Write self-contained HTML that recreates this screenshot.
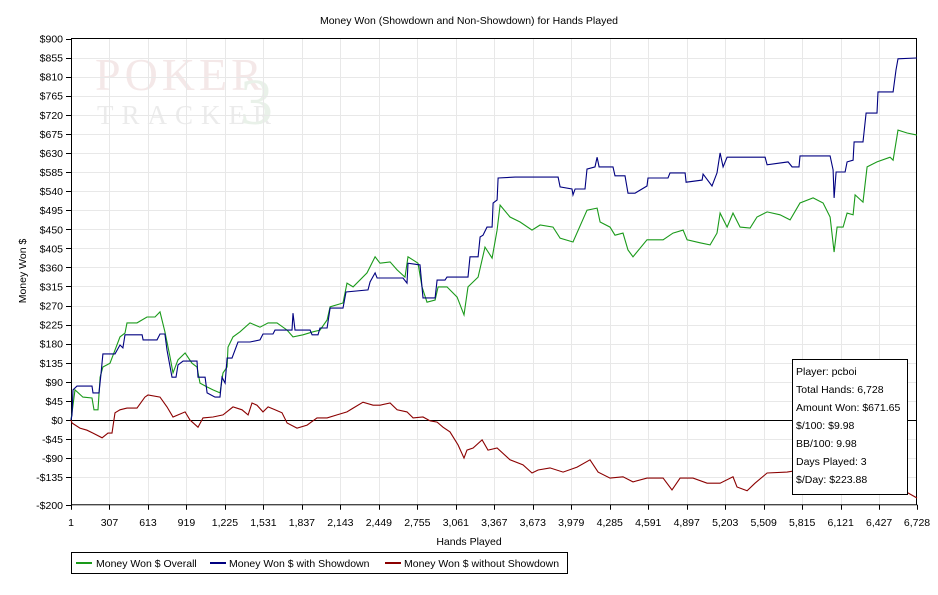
<!DOCTYPE html>
<html><head><meta charset="utf-8"><style>
body{margin:0;background:#fff;width:938px;height:590px;overflow:hidden}
svg text{font-family:"Liberation Sans","DejaVu Sans",sans-serif;font-size:10.5px;fill:#000}
</style></head><body>
<svg id="chart" width="938" height="590" xmlns="http://www.w3.org/2000/svg">
<rect x="0" y="0" width="938" height="590" fill="#fff"/>
<g id="watermark" opacity="0.55">
<text x="95" y="90" style="font-family:'Liberation Serif',serif;font-size:46px;fill:#ecd6d6;letter-spacing:4px">POKER</text>
<text x="97" y="124" style="font-family:'Liberation Serif',serif;font-size:27px;fill:#dcdcdc;letter-spacing:8px">TRACKER</text>
<text x="240" y="124" style="font-family:'Liberation Serif',serif;font-size:66px;fill:#d8e6d8">3</text>
</g>
<text x="469" y="24" text-anchor="middle">Money Won (Showdown and Non-Showdown) for Hands Played</text>
<text transform="translate(26,271) rotate(-90)" text-anchor="middle">Money Won $</text>
<text x="469" y="545" text-anchor="middle">Hands Played</text>
<g id="grid"></g><g id="axes"></g><g id="series"></g>
<g>
<rect x="792.5" y="359.5" width="115" height="135" fill="#fff" stroke="#000"/>
<text x="796" y="375">Player: pcboi</text>
<text x="796" y="393">Total Hands: 6,728</text>
<text x="796" y="411">Amount Won: $671.65</text>
<text x="796" y="429">$/100: $9.98</text>
<text x="796" y="447">BB/100: 9.98</text>
<text x="796" y="465">Days Played: 3</text>
<text x="796" y="483">$/Day: $223.88</text>
</g>
<g>
<rect x="71.5" y="552.5" width="496" height="21" fill="#fff" stroke="#000"/>
<g><line x1="76" y1="563" x2="92" y2="563" stroke="#1a9a1a" stroke-width="2"/><text x="96" y="567">Money Won $ Overall</text></g>
<g><line x1="210" y1="563" x2="226" y2="563" stroke="#000080" stroke-width="2"/><text x="229" y="567">Money Won $ with Showdown</text></g>
<g><line x1="385" y1="563" x2="401" y2="563" stroke="#8b0000" stroke-width="2"/><text x="404" y="567">Money Won $ without Showdown</text></g>
</g>
</svg>
<script>
const xTickLabels=["1","307","613","919","1,225","1,531","1,837","2,143","2,449","2,755","3,061","3,367","3,673","3,979","4,285","4,591","4,897","5,203","5,509","5,815","6,121","6,427","6,728"];
const xTickValues=[1,307,613,919,1225,1531,1837,2143,2449,2755,3061,3367,3673,3979,4285,4591,4897,5203,5509,5815,6121,6427,6728];
const yTickValues=[900,855,810,765,720,675,630,585,540,495,450,405,360,315,270,225,180,135,90,45,0,-45,-90,-135,-200];
const yTickLabels=["$900","$855","$810","$765","$720","$675","$630","$585","$540","$495","$450","$405","$360","$315","$270","$225","$180","$135","$90","$45","$0","-$45","-$90","-$135","-$200"];
const overallHands=[1,9,33,96,168,184,216,232,255,311,351,391,430,446,526,605,669,709,748,788,812,852,908,963,1003,1027,1082,1130,1186,1210,1242,1249,1289,1345,1424,1504,1568,1639,1719,1766,1846,1925,1981,2037,2061,2164,2196,2244,2355,2419,2458,2538,2594,2657,2681,2760,2792,2832,2896,2920,2991,3071,3126,3158,3238,3293,3349,3389,3413,3492,3572,3667,3731,3834,3890,3993,4104,4184,4208,4287,4327,4390,4430,4470,4581,4709,4788,4868,4900,5003,5083,5138,5162,5218,5265,5321,5401,5456,5536,5639,5719,5798,5902,5981,6037,6069,6093,6140,6172,6220,6236,6299,6331,6410,6514,6538,6577,6649,6728];
const overallValues=[0,17,71,54,52,24,24,101,125,134,165,196,205,229,229,243,243,255,208,149,111,142,158,134,125,87,78,71,64,111,125,172,196,208,229,219,229,229,212,196,201,208,212,236,267,276,323,314,347,385,370,373,354,337,385,370,314,278,283,314,314,290,248,314,337,408,382,448,507,479,467,448,460,455,429,420,495,500,467,455,436,441,401,385,425,425,441,448,425,418,413,441,488,455,488,455,453,479,491,484,472,512,524,512,479,396,455,455,488,484,531,514,597,609,620,613,684,677,672];
const showdownHands=[1,9,17,49,168,176,224,240,255,351,391,414,430,566,574,685,709,748,764,804,836,852,892,1003,1011,1067,1083,1146,1186,1202,1226,1242,1281,1329,1424,1504,1528,1607,1623,1758,1766,1782,1902,1918,1965,1981,2037,2061,2164,2188,2363,2379,2419,2435,2641,2673,2681,2776,2800,2896,2912,2975,2991,3158,3174,3238,3254,3277,3309,3349,3357,3389,3397,3532,3874,3890,3985,3993,4009,4088,4104,4168,4184,4200,4311,4327,4406,4430,4486,4581,4589,4748,4764,4884,4892,5019,5027,5098,5138,5162,5186,5218,5520,5536,5703,5735,5790,5798,6037,6061,6069,6085,6156,6172,6220,6228,6299,6323,6410,6418,6538,6561,6577,6720,6728];
const showdownValues=[0,12,71,80,80,64,64,111,156,156,177,170,201,201,189,189,203,203,165,101,101,130,139,139,101,101,64,54,54,101,87,146,146,184,184,189,203,203,212,212,252,212,212,201,201,217,217,264,264,302,307,326,347,335,335,323,370,366,288,288,330,330,337,337,385,385,432,436,455,455,512,519,571,573,573,550,545,531,545,545,592,597,620,597,597,576,576,535,535,552,571,571,583,583,561,566,580,552,583,630,597,620,620,602,609,597,597,623,623,590,524,585,585,609,613,656,656,724,724,774,774,826,852,854,854];
const nonShowdownHands=[1,9,72,128,176,248,295,327,351,391,446,526,589,613,709,764,812,908,947,1011,1051,1130,1210,1289,1361,1409,1440,1480,1528,1568,1623,1679,1719,1798,1878,1957,2037,2116,2196,2244,2323,2403,2458,2538,2594,2673,2721,2800,2856,2912,2959,3015,3079,3126,3150,3198,3270,3317,3389,3492,3595,3667,3715,3810,3914,4025,4128,4192,4287,4390,4470,4581,4709,4780,4844,4947,5059,5162,5265,5297,5377,5440,5536,5695,5798,6196,6434,6656,6728];
const nonShowdownValues=[0,-7,-19,-24,-31,-42,-31,-31,17,24,28,28,54,59,54,31,7,19,0,-17,5,7,12,31,24,12,40,35,19,31,24,17,-7,-19,-12,5,5,12,19,28,42,35,35,40,24,19,5,7,-2,-5,-17,-28,-59,-90,-71,-66,-47,-71,-66,-94,-106,-125,-118,-113,-123,-111,-94,-123,-137,-134,-146,-137,-137,-165,-137,-137,-149,-149,-134,-158,-167,-149,-125,-123,-118,-113,-137,-172,-184];

const NS="http://www.w3.org/2000/svg";
const L=71,R=917,T=38.5,B=420+200*381.5/900;
function xScale(h){return L+(h-1)/(6728-1)*(R-L);}
function yScale(v){return 420-v*381.5/900;}
function mk(tag,attrs,parent){const e=document.createElementNS(NS,tag);for(const k in attrs)e.setAttribute(k,attrs[k]);parent.appendChild(e);return e;}
const grid=document.getElementById('grid'),axes=document.getElementById('axes'),series=document.getElementById('series');
xTickValues.forEach((v,i)=>{
  const x=Math.round(xScale(v))+0.5;
  if(i>0&&i<xTickValues.length-1){const g=mk('line',{x1:x,y1:T,x2:x,y2:B,stroke:'#e8e8e8'},grid);
  
  }
  const t=mk('line',{x1:x,y1:B,x2:x,y2:B+5,stroke:'#000'},axes);
  
  
  const lb=mk('text',{x:xScale(v),y:B+21,'text-anchor':'middle'},axes);lb.textContent=xTickLabels[i];
  
  
});
yTickValues.forEach((v,i)=>{
  const y=Math.round(yScale(v))+0.5;
  if(v!==0&&v!==-200&&v!==900){const g=mk('line',{x1:L,y1:y,x2:R,y2:y,stroke:'#e8e8e8'},grid);
  
  }
  const t=mk('line',{x1:L-5,y1:y,x2:L,y2:y,stroke:'#000'},axes);
  
  
  const lb=mk('text',{x:L-8,y:yScale(v)+4,'text-anchor':'end'},axes);lb.textContent=yTickLabels[i];
  
  
});
const frame=mk('rect',{x:L+0.5,y:T,width:R-L-1,height:B-T,fill:'none',stroke:'#000'},axes);


const zl=mk('line',{x1:L,y1:yScale(0)+0.5,x2:R,y2:yScale(0)+0.5,stroke:'#000'},axes);


function drawSeries(hs,vs,color,name){
  const d=hs.map((h,i)=>(i?'L':'M')+xScale(h).toFixed(1)+' '+yScale(vs[i]).toFixed(1)).join(' ');
  const p=mk('path',{d:d,fill:'none',stroke:color,'stroke-width':1.1},series);
  
  
}
drawSeries(nonShowdownHands,nonShowdownValues,'#8b0000','line-without-showdown');
drawSeries(overallHands,overallValues,'#1a9a1a','line-overall');
drawSeries(showdownHands,showdownValues,'#000080','line-with-showdown');
</script>
</body></html>
